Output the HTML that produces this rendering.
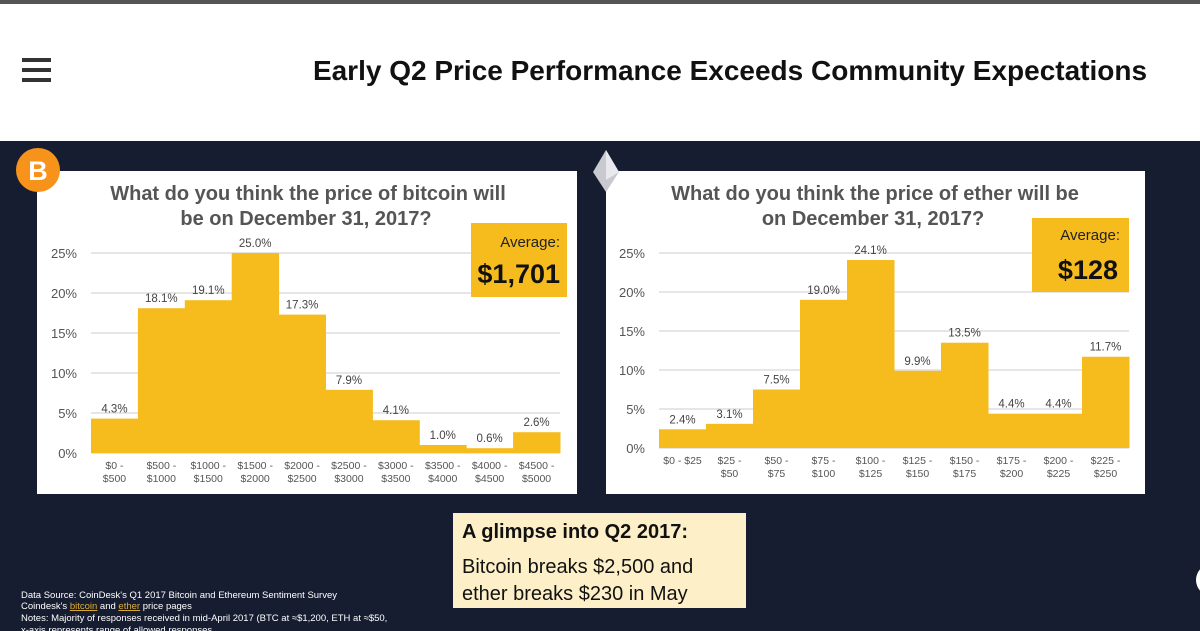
<!DOCTYPE html>
<html><head><meta charset="utf-8"><style>
body{margin:0;width:1200px;height:631px;overflow:hidden;background:#fff;font-family:"Liberation Sans",sans-serif;}
svg{display:block}
</style></head><body>
<svg id="s" width="1200" height="631" xmlns="http://www.w3.org/2000/svg">
<rect x="0" y="0" width="1200" height="141" fill="#fff"/>
<rect x="0" y="0" width="1200" height="4" fill="#555"/>
<rect x="0" y="141" width="1200" height="490" fill="#161d31"/>
<g fill="#333">
<rect x="22" y="58" width="29" height="4"/><rect x="22" y="68" width="29" height="4"/><rect x="22" y="78" width="29" height="4"/>
</g>
<text x="730" y="80" text-anchor="middle" font-size="28" font-weight="bold" fill="#111">Early Q2 Price Performance Exceeds Community Expectations</text>
<rect x="37" y="171" width="540" height="323" fill="#fff"/>
<rect x="606" y="171" width="539" height="323" fill="#fff"/>
<g>
<circle cx="38" cy="170" r="22" fill="#f7931a"/>
<text x="38" y="180" text-anchor="middle" font-size="27" font-weight="bold" fill="#fff">B</text>
</g>
<g>
<polygon points="606,150 619,172 606,192 593,172" fill="#c9c9d0"/>
<polygon points="606,150 619,172 606,180" fill="#e8e8ee"/>
</g>
<text x="308" y="200" text-anchor="middle" font-size="20" font-weight="bold" fill="#555"><tspan x="308">What do you think the price of bitcoin will</tspan><tspan x="306" dy="25">be on December 31, 2017?</tspan></text>
<text x="875" y="200" text-anchor="middle" font-size="20" font-weight="bold" fill="#555"><tspan x="875">What do you think the price of ether will be</tspan><tspan x="873" dy="25">on December 31, 2017?</tspan></text>
<g id="c1"></g><g id="c2"></g>
<g>
<rect x="471" y="223" width="96" height="74" fill="#f6bc1e"/>
<text x="560" y="247" text-anchor="end" font-size="15" fill="#222">Average:</text>
<text x="560" y="283" text-anchor="end" font-size="27" font-weight="bold" fill="#111">$1,701</text>
</g>
<g>
<rect x="1032" y="218" width="97" height="74" fill="#f6bc1e"/>
<text x="1120" y="240" text-anchor="end" font-size="15" fill="#222">Average:</text>
<text x="1118" y="279" text-anchor="end" font-size="27" font-weight="bold" fill="#111">$128</text>
</g>
<g>
<rect x="453" y="513" width="293" height="95" fill="#fdf0c8"/>
<text x="462" y="538" font-size="20" font-weight="bold" fill="#111">A glimpse into Q2 2017:</text>
<text x="462" y="573" font-size="20" fill="#111">Bitcoin breaks $2,500 and</text>
<text x="462" y="600" font-size="20" fill="#111">ether breaks $230 in May</text>
</g>
<g font-size="9.5" fill="#fff">
<text x="21" y="598">Data Source: CoinDesk's Q1 2017 Bitcoin and Ethereum Sentiment Survey</text>
<text x="21" y="609">Coindesk's <tspan fill="#e0b030" text-decoration="underline">bitcoin</tspan> and <tspan fill="#e0b030" text-decoration="underline">ether</tspan> price pages</text>
<text x="21" y="621">Notes: Majority of responses received in mid-April 2017 (BTC at ≈$1,200, ETH at ≈$50,</text>
<text x="21" y="633">x-axis represents range of allowed responses</text>
</g>
<circle cx="1212" cy="580" r="16" fill="#fff"/>
</svg>
<script>
const btcCats=[["$0 -","$500"],["$500 -","$1000"],["$1000 -","$1500"],["$1500 -","$2000"],["$2000 -","$2500"],["$2500 -","$3000"],["$3000 -","$3500"],["$3500 -","$4000"],["$4000 -","$4500"],["$4500 -","$5000"]];
const btcVals=[4.3,18.1,19.1,25.0,17.3,7.9,4.1,1.0,0.6,2.6];
const ethCats=[["$0 - $25",""],["$25 -","$50"],["$50 -","$75"],["$75 -","$100"],["$100 -","$125"],["$125 -","$150"],["$150 -","$175"],["$175 -","$200"],["$200 -","$225"],["$225 -","$250"]];
const ethVals=[2.4,3.1,7.5,19.0,24.1,9.9,13.5,4.4,4.4,11.7];
const yTicks=[0,5,10,15,20,25];
const NS="http://www.w3.org/2000/svg";
function mk(g,tag,a,txt){const e=document.createElementNS(NS,tag);for(const k in a)e.setAttribute(k,a[k]);if(txt!==undefined)e.textContent=txt;g.appendChild(e);return e;}
function draw(id,cats,vals,x0,x1,y0,y25,tickX,prefix){
  const g=document.getElementById(id);
  const y=v=>y0+(y25-y0)*v/25;
  const bw=(x1-x0)/vals.length;
  const x=i=>x0+i*bw;
  yTicks.forEach(t=>{
    const l=mk(g,'line',{x1:x0,x2:x1,y1:y(t),y2:y(t),stroke:'#ddd','stroke-width':1.5});
    
    
    const tx=mk(g,'text',{x:tickX,y:y(t)+5,'font-size':13,fill:'#555','text-anchor':'end'},t+'%');
    
    
  });
  vals.forEach((v,i)=>{
    const r=mk(g,'rect',{x:x(i),y:y(v),width:bw+0.5,height:y0-y(v),fill:'#f6bc1e'});
    
    
    const lb=mk(g,'text',{x:x(i)+bw/2,y:y(v)-6,'font-size':11.5,fill:'#444','text-anchor':'middle'},v.toFixed(1)+'%');
    
    
    const c1=mk(g,'text',{x:x(i)+bw/2,y:y0+16,'font-size':10.5,fill:'#555','text-anchor':'middle'},cats[i][0]);
    
    
    const c2=mk(g,'text',{x:x(i)+bw/2,y:y0+29,'font-size':10.5,fill:'#555','text-anchor':'middle'},cats[i][1]);
    
    
  });
}
draw('c1',btcCats,btcVals,91,560,453,253,77,'bitcoin');
draw('c2',ethCats,ethVals,659,1129,448,253,645,'ether');
</script>
</body></html>
